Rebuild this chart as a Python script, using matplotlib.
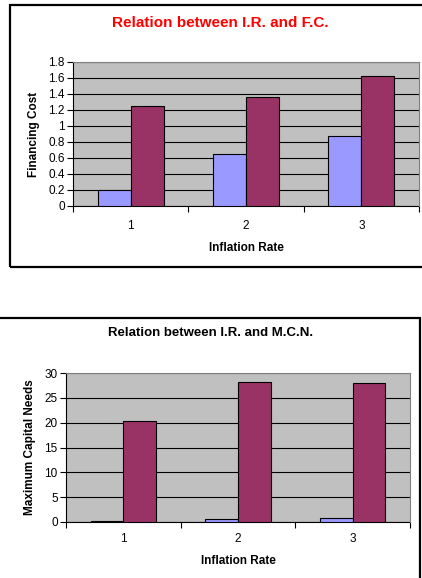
import matplotlib.pyplot as plt
from matplotlib.patches import Rectangle

plt.rcParams['font.family'] = ['Liberation Sans', 'DejaVu Sans']

# datos
categorias = ['1', '2', '3']
fc_azul = [0.2, 0.65, 0.88]
fc_rojo = [1.25, 1.36, 1.62]
mcn_azul = [0.15, 0.6, 0.8]
mcn_rojo = [20.4, 28.2, 28.0]

W, H = 422, 578
fig = plt.figure(figsize=(W / 100, H / 100), dpi=100)


def px_axes(l, t, r, b):
    return fig.add_axes([l / W, 1 - b / H, (r - l) / W, (b - t) / H])


def marco(l, t, r, b):
    fig.patches.append(Rectangle((l / W, 1 - b / H), (r - l) / W, (b - t) / H,
                                 transform=fig.transFigure, fill=False,
                                 edgecolor='black', linewidth=1.6, zorder=0))


def grafico(ax, azul, rojo, ymax, paso, ylabel, fmt, pad):
    x = range(len(categorias))
    w = 1 / 3.5
    ax.set_facecolor('#C0C0C0')
    ax.bar([i - w / 2 for i in x], azul, w, color='#9999FF', edgecolor='black', linewidth=0.8, zorder=3)
    ax.bar([i + w / 2 for i in x], rojo, w, color='#993366', edgecolor='black', linewidth=0.8, zorder=3)
    ax.set_xlim(-0.5, 2.5)
    ax.set_ylim(0, ymax)
    ticks = [k * paso for k in range(int(round(ymax / paso)) + 1)]
    ax.set_yticks(ticks)
    ax.set_yticklabels([fmt(t) for t in ticks], fontsize=8.5)
    ax.yaxis.grid(True, color='black', linewidth=0.8, zorder=1)
    ax.set_xticks([-0.5, 0.5, 1.5, 2.5])
    ax.set_xticklabels([])
    ax.set_xticks(list(x), minor=True)
    ax.set_xticklabels(categorias, minor=True, fontsize=8.5)
    ax.tick_params(axis='x', which='minor', length=0, pad=pad)
    ax.tick_params(axis='x', which='major', length=4, direction='out')
    ax.tick_params(axis='y', length=4, pad=2)
    for s in ['top', 'right']:
        ax.spines[s].set_color('#808080')
        ax.spines[s].set_zorder(4)
    ax.set_ylabel(ylabel, fontsize=8.5, fontweight='bold', labelpad=6)
    ax.set_xlabel('Inflation Rate', fontsize=8.5, fontweight='bold', labelpad=7)


# grafico 1
marco(10, 5, 440, 267)
ax1 = px_axes(73, 62, 419, 206)
grafico(ax1, fc_azul, fc_rojo, 1.8, 0.2, 'Financing Cost', lambda t: f'{t:g}', 10)
fig.text(220 / W, 1 - 23 / H, 'Relation between I.R. and F.C.', color='red',
         fontsize=11, fontweight='bold', ha='center', va='center')

# grafico 2
marco(-10, 318, 420, 600)
ax2 = px_axes(66, 373, 410, 522)
grafico(ax2, mcn_azul, mcn_rojo, 30, 5, 'Maximum Capital Needs', lambda t: f'{t:g}', 8)
fig.text(211 / W, 1 - 333 / H, 'Relation between I.R. and M.C.N.', color='black',
         fontsize=9.5, fontweight='bold', ha='center', va='center')

plt.savefig('out.png', dpi=100)
